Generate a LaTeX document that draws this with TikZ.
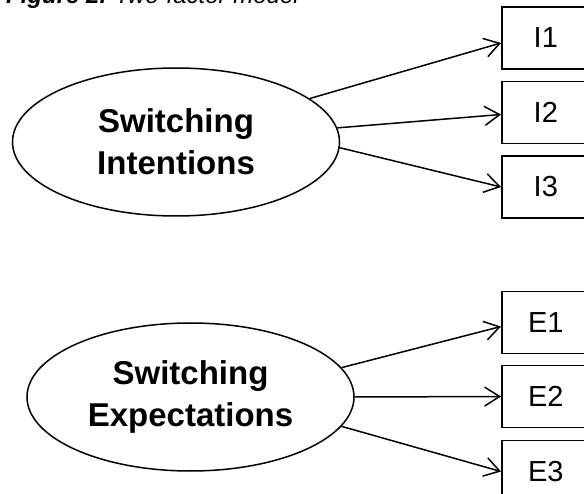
\documentclass[tikz,border=0pt]{standalone}
\usepackage{fontspec}
\setmainfont{Liberation Sans}
\usetikzlibrary{shapes.geometric,arrows.meta}
\begin{document}
\begin{tikzpicture}[x=1pt,y=-1pt,
  latent/.style={draw,ellipse,line width=1.5pt,minimum width=327pt,minimum height=148pt,
    inner sep=0pt,align=center,font=\fontsize{33}{42}\selectfont\bfseries},
  indicator/.style={draw,rectangle,line width=1.6pt,minimum width=88pt,minimum height=62pt,
    inner sep=0pt,anchor=west,font=\fontsize{29}{34}\selectfont},
  load/.style={line width=1.5pt,-{Straight Barb[length=15pt,width=19pt]}}
]
\useasboundingbox (0,0) rectangle (584,494);
\clip (0,0) rectangle (584,494);

% caption, mostly above the visible frame
\node[anchor=base west,inner sep=0pt,font=\fontsize{24}{28}\selectfont\itshape]
  (caption) at (6,4) {\textbf{Figure 2.} Two-factor model};

% factor 1
\node[latent] (fi) at (176,142) {Switching\\Intentions};
\node[indicator] (i1) at (501,38) {I1};
\node[indicator] (i2) at (501,112.5) {I2};
\node[indicator] (i3) at (501,187) {I3};

% factor 2
\node[latent] (fe) at (190.5,397) {Switching\\Expectations};
\node[indicator] (e1) at (501,322.5) {E1};
\node[indicator] (e2) at (501,396.5) {E2};
\node[indicator] (e3) at (501,471.5) {E3};

% loadings
\draw[load] (fi.18) -- ([yshift=-5pt]i1.west);
\draw[load] (fi.5) -- ([yshift=-2pt]i2.west);
\draw[load] (fi.-2) -- (i3.west);
\draw[load] (fe.11) -- ([yshift=-4pt]e1.west);
\draw[load] (fe.0) -- (e2.west);
\draw[load] (fe.-11) -- (e3.west);
\end{tikzpicture}
\end{document}
